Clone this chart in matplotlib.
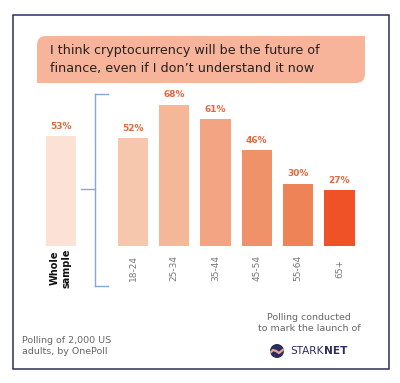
import matplotlib
matplotlib.use("Agg")
import matplotlib.pyplot as plt
from matplotlib.path import Path
from matplotlib.patches import PathPatch, Rectangle, Circle
from matplotlib.lines import Line2D
from matplotlib.transforms import Affine2D

# ---- data ----
groups = ["Whole\nsample", "18-24", "25-34", "35-44", "45-54", "55-64", "65+"]
values = [53, 52, 68, 61, 46, 30, 27]
xpos = [0, 1.75, 2.75, 3.75, 4.75, 5.75, 6.75]
colors = ["#fbe2d5", "#f6c6ad", "#f4b797", "#f2a483", "#ef9169", "#ee8358", "#ef5226"]

title = "I think cryptocurrency will be the future of\nfinance, even if I don\u2019t understand it now"
W, H = 400, 383

fig = plt.figure(figsize=(W / 100, H / 100), dpi=100)
fig.patch.set_facecolor("white")
# pixel coords (y down) -> figure
px = Affine2D().scale(1 / W, -1 / H).translate(0, 1) + fig.transFigure

# frame
fig.add_artist(Rectangle((13, 15), 376, 354, transform=px, fill=False,
                         edgecolor="#2b2d5e", lw=1.1))

# title box, rounded top-left and bottom-right
x0, x1, y0, y1, r = 37, 365, 36, 83, 9
verts = [(x0 + r, y0), (x1, y0), (x1, y1 - r), (x1, y1), (x1 - r, y1),
         (x0, y1), (x0, y0 + r), (x0, y0), (x0 + r, y0), (x0 + r, y0)]
codes = [Path.MOVETO, Path.LINETO, Path.LINETO, Path.CURVE3, Path.CURVE3,
         Path.LINETO, Path.LINETO, Path.CURVE3, Path.CURVE3, Path.CLOSEPOLY]
fig.add_artist(PathPatch(Path(verts, codes), transform=px,
                         facecolor="#f7b49b", edgecolor="none"))
fig.text(50 / W, 1 - 59.5 / H, title, fontsize=9.2, color="#222222",
         va="center", ha="left", linespacing=1.5, family="DejaVu Sans")

# bars
ax = fig.add_axes([30 / W, (H - 246) / H, 340 / W, 2.08 * 80 / H])
ax.set_xlim(-0.743, 7.489)
ax.set_ylim(0, 80)
ax.bar(xpos, values, width=0.73, color=colors)
for x, v in zip(xpos, values):
    ax.annotate(f"{v}%", (x, v), xytext=(0, 7), textcoords="offset points",
                ha="center", va="center", fontsize=6.5, fontweight="bold",
                color="#e4683f")
ax.set_xticks(xpos)
ax.set_xticklabels(groups, rotation=90, va="center", ha="center",
                   fontsize=6.5, color="#777777")
ax.tick_params(axis="x", length=0, pad=16)
lbl = ax.get_xticklabels()[0]
lbl.set_fontweight("bold")
lbl.set_color("#111111")
lbl.set_fontsize(7)
ax.set_yticks([])
for s in ax.spines.values():
    s.set_visible(False)
ax.patch.set_alpha(0)

# bracket
bc = "#86a5d8"
for xs, ys in [([95, 95], [94, 286]), ([95, 108], [94, 94]),
               ([95, 108], [286, 286]), ([81, 95], [189, 189])]:
    fig.add_artist(Line2D(xs, ys, transform=px, color=bc, lw=1.0))

# footer
fig.text(22 / W, 1 - 346 / H, "Polling of 2,000 US\nadults, by OnePoll",
         fontsize=6.8, color="#666666", va="center", ha="left", linespacing=1.3)
fig.text(309 / W, 1 - 323 / H, "Polling conducted\nto mark the launch of",
         fontsize=6.8, color="#666666", va="center", ha="center", linespacing=1.35)

logo = Circle((277, 351), 7, transform=px, facecolor="#2b2d5e", edgecolor="none")
fig.add_artist(logo)
wave = Line2D([270, 273, 276, 279, 284], [353, 350, 351, 353, 349], transform=px,
              color="#e8a493", lw=1.6)
wave.set_clip_path(logo)
fig.add_artist(wave)
t1 = fig.text(290 / W, 1 - 351 / H, "STARK", fontsize=7.6, color="#2b2d5e",
              va="center", ha="left")
fig.canvas.draw()
x_end = t1.get_window_extent().x1 / fig.bbox.width
fig.text(x_end + 0.5 / W, 1 - 351 / H, "NET", fontsize=7.6, color="#2b2d5e",
         va="center", ha="left", fontweight="bold")

fig.savefig("out.png", dpi=100, facecolor="white")
